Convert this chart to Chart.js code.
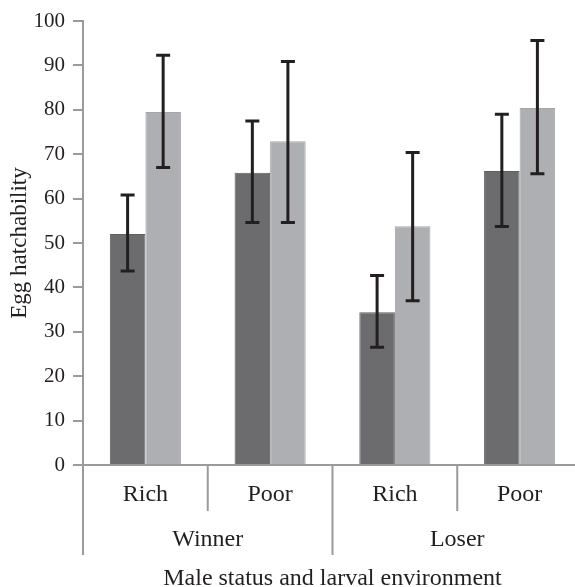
<!DOCTYPE html>
<html>
<head>
<meta charset="utf-8">
<script src="https://cdn.jsdelivr.net/npm/chart.js@4/dist/chart.umd.min.js"></script>
<style>
  html, body { margin: 0; padding: 0; background: #fff; overflow: hidden; }
  #wrap { width: 582px; height: 587px; }
</style>
</head>
<body>
<div id="wrap"><canvas id="c" width="582" height="587"></canvas></div>
<script>
// ---- data ----
const categories = ['Rich', 'Poor', 'Rich', 'Poor'];
const groups = ['Winner', 'Loser'];
const darkValues = [52.0, 65.8, 34.4, 66.2];
const darkLow    = [43.7, 54.6, 26.5, 53.7];
const darkHigh   = [60.8, 77.5, 42.7, 79.0];
const lightValues = [79.5, 72.9, 53.8, 80.4];
const lightLow    = [67.0, 54.6, 37.0, 65.6];
const lightHigh   = [92.3, 90.9, 70.4, 95.6];
const yTicks = [0, 10, 20, 30, 40, 50, 60, 70, 80, 90, 100];
const yTitle = 'Egg hatchability';
const xTitle = 'Male status and larval environment';

const FONT = '"Liberation Serif", "Times New Roman", serif';
const AXIS = '#9a9a9a';
const TEXT = '#231f20';

const errorBars = {
  id: 'errorBars',
  afterDatasetsDraw(chart) {
    const ctx = chart.ctx;
    const y = chart.scales.y;
    const sets = [[darkLow, darkHigh], [lightLow, lightHigh]];
    ctx.save();
    ctx.strokeStyle = TEXT;
    ctx.lineWidth = 3;
    sets.forEach((s, di) => {
      const meta = chart.getDatasetMeta(di);
      meta.data.forEach((bar, i) => {
        const x = bar.x;
        const yl = y.getPixelForValue(s[0][i]);
        const yh = y.getPixelForValue(s[1][i]);
        ctx.beginPath();
        ctx.moveTo(x, yl); ctx.lineTo(x, yh);
        ctx.moveTo(x - 7, yl); ctx.lineTo(x + 7, yl);
        ctx.moveTo(x - 7, yh); ctx.lineTo(x + 7, yh);
        ctx.stroke();
      });
    });
    ctx.restore();
  }
};

const groupAxis = {
  id: 'groupAxis',
  afterDraw(chart) {
    const ctx = chart.ctx;
    const xs = chart.scales.x;
    const top = xs.top;
    const centers = categories.map((_, i) => xs.getPixelForValue(i));
    const bound = i => (centers[i] + centers[i + 1]) / 2;
    ctx.save();
    ctx.strokeStyle = AXIS;
    ctx.lineWidth = 2;
    ctx.beginPath();
    ctx.moveTo(xs.left, top); ctx.lineTo(xs.left, top + 90);
    ctx.moveTo(bound(0), top); ctx.lineTo(bound(0), top + 46);
    ctx.moveTo(bound(2), top); ctx.lineTo(bound(2), top + 46);
    ctx.moveTo(bound(1), top); ctx.lineTo(bound(1), top + 90);
    ctx.moveTo(xs.right, top); ctx.lineTo(xs.right, top + 90);
    ctx.stroke();

    ctx.fillStyle = TEXT;
    ctx.font = '24px ' + FONT;
    ctx.textAlign = 'center';
    ctx.textBaseline = 'alphabetic';
    categories.forEach((c, i) => ctx.fillText(c, centers[i], top + 36));
    ctx.fillText(groups[0], bound(0), top + 81);
    ctx.fillText(groups[1], bound(2), top + 81);
    ctx.fillText(xTitle, (xs.left + xs.right) / 2, top + 120);
    ctx.restore();
  }
};

new Chart(document.getElementById('c'), {
  type: 'bar',
  data: {
    labels: categories,
    datasets: [
      { data: darkValues, backgroundColor: '#6c6c6e', borderColor: '#5f5f61', borderWidth: 1 },
      { data: lightValues, backgroundColor: '#aeafb2', borderColor: '#a4a5a8', borderWidth: 1 }
    ]
  },
  options: {
    responsive: false,
    animation: false,
    devicePixelRatio: 1,
    layout: { padding: { top: 21, left: 0, right: 0, bottom: 0 } },
    plugins: { legend: { display: false }, tooltip: { enabled: false } },
    datasets: { bar: { categoryPercentage: 0.57, barPercentage: 1.0 } },
    scales: {
      x: {
        grid: { display: false, drawTicks: false },
        border: { display: true, color: AXIS, width: 2 },
        ticks: { display: false },
        afterFit(scale) { scale.height = 122; }
      },
      y: {
        min: 0, max: 100,
        afterBuildTicks(scale) { scale.ticks = yTicks.map(v => ({ value: v })); },
        grid: { drawOnChartArea: false, drawTicks: true, tickLength: 10, color: AXIS, lineWidth: 2 },
        border: { display: true, color: AXIS, width: 2 },
        ticks: { color: TEXT, font: { family: FONT, size: 21 }, padding: 8 },
        title: { display: true, text: yTitle, color: TEXT, font: { family: FONT, size: 23 }, padding: { top: 6, bottom: 0 } },
        afterFit(scale) { scale.width = 83; }
      }
    }
  },
  plugins: [errorBars, groupAxis]
});
</script>
</body>
</html>
